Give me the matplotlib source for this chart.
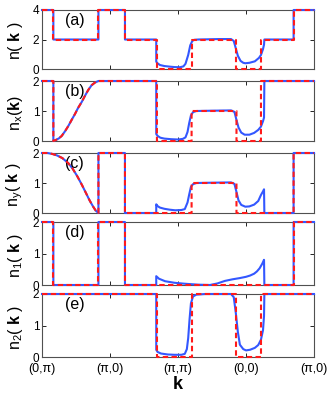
import matplotlib
matplotlib.use("Agg")
import matplotlib.pyplot as plt

plt.rcParams['font.family'] = ['Liberation Sans', 'DejaVu Sans']
plt.rcParams['mathtext.fontset'] = 'custom'
plt.rcParams['mathtext.rm'] = 'Liberation Sans'
plt.rcParams['mathtext.it'] = 'Liberation Sans:italic'
plt.rcParams['mathtext.bf'] = 'Liberation Sans:bold'

# ---- data (x measured along the path, one unit per segment) ----
xtick_pos = [0, 1, 2, 3, 4]
xtick_labels = ['(0,π)', '(π,0)', '(π,π)', '(0,0)', '(π,0)']

panel_tags = ['(a)', '(b)', '(c)', '(d)', '(e)']
ylabels = [r'$\mathrm{n}(\ \mathbf{k}\ )$', r'$\mathrm{n}_{\mathrm{x}}(\mathbf{k})$',
           r'$\mathrm{n}_{\mathrm{y}}(\ \mathbf{k}\ )$', r'$\mathrm{n}_{1}(\ \mathbf{k}\ )$',
           r'$\mathrm{n}_{2}(\ \mathbf{k}\ )$']
ymax = [4, 2, 2, 2, 2]
yticks = [[0, 2, 4], [0, 1, 2], [0, 1, 2], [0, 1, 2], [0, 1, 2]]

# smooth parts shared by blue and red in the first segment
nx_seg_x = [0.167, 0.20, 0.25, 0.29, 0.34, 0.387, 0.44, 0.485, 0.53, 0.584, 0.63, 0.68, 0.73, 0.78, 0.83]
nx_seg_y = [0.0, 0.03, 0.09, 0.17, 0.33, 0.50, 0.72, 0.90, 1.10, 1.30, 1.50, 1.70, 1.86, 1.95, 2.0]
ny_seg_x = [0.0, 0.08, 0.15, 0.22, 0.30, 0.387, 0.45, 0.52, 0.584, 0.65, 0.70, 0.75, 0.79, 0.83]
ny_seg_y = [2.0, 2.0, 1.97, 1.92, 1.83, 1.66, 1.48, 1.22, 0.95, 0.65, 0.42, 0.22, 0.08, 0.0]

# blue (solid) curves
a_blue_x = [0, 0.167, 0.167, 0.83, 0.83, 1.22, 1.22, 1.68, 1.68, 1.70, 1.735, 1.80, 1.88, 1.95, 2.03, 2.08,
            2.11, 2.15, 2.18, 2.21, 2.24, 2.30, 2.6, 2.78, 2.82, 2.85, 2.88, 2.92, 2.96, 2.99, 3.05, 3.13,
            3.19, 3.22, 3.25, 3.265, 3.27, 3.7, 3.7, 4]
a_blue_y = [4, 4, 2, 2, 4, 4, 2, 2, 0.5, 0.38, 0.27, 0.2, 0.16, 0.13, 0.12, 0.18,
            0.35, 0.95, 1.6, 1.9, 1.98, 2.0, 2.03, 2.03, 1.9, 1.4, 0.9, 0.55, 0.42, 0.39, 0.42, 0.52,
            0.75, 0.95, 1.35, 1.65, 2, 2, 4, 4]

b_blue_x = [0, 0.167, 0.167] + nx_seg_x[1:] + [1.68, 1.68, 1.70, 1.74, 1.80, 1.90, 2.0, 2.07, 2.11, 2.14,
            2.165, 2.19, 2.22, 2.27, 2.5, 2.78, 2.83, 2.86, 2.89, 2.93, 2.98, 3.05, 3.12, 3.18, 3.22,
            3.25, 3.265, 3.27, 4]
b_blue_y = [2, 2, 0] + nx_seg_y[1:] + [2, 0.23, 0.17, 0.11, 0.08, 0.06, 0.05, 0.07, 0.12, 0.3,
            0.6, 0.85, 0.96, 1.0, 1.01, 1.02, 0.97, 0.7, 0.45, 0.28, 0.21, 0.21, 0.27, 0.37, 0.48,
            0.66, 0.78, 2, 2]

c_blue_x = ny_seg_x + [0.83, 1.22, 1.22, 1.68, 1.68, 1.70, 1.735, 1.80, 1.88, 1.96, 2.05, 2.10, 2.14,
           2.165, 2.19, 2.22, 2.27, 2.5, 2.78, 2.83, 2.86, 2.89, 2.93, 2.99, 3.05, 3.12, 3.18, 3.22,
           3.25, 3.265, 3.27, 3.7, 3.7, 4]
c_blue_y = ny_seg_y + [2, 2, 0, 0, 0.29, 0.23, 0.18, 0.14, 0.11, 0.09, 0.1, 0.13, 0.35,
           0.62, 0.87, 0.96, 1.0, 1.01, 1.02, 0.97, 0.7, 0.42, 0.27, 0.21, 0.22, 0.28, 0.4, 0.6,
           0.72, 0.79, 0, 0, 2, 2]

d_blue_x = [0, 0.167, 0.167, 0.83, 0.83, 1.22, 1.22, 1.68, 1.68, 1.72, 1.81, 1.95, 2.1, 2.3, 2.47,
            2.58, 2.69, 2.8, 2.91, 3.0, 3.06, 3.12, 3.16, 3.2, 3.24, 3.265, 3.27, 3.7, 3.7, 4]
d_blue_y = [2, 2, 0, 0, 2, 2, 0, 0, 0.28, 0.2, 0.12, 0.07, 0.04, 0.01, 0.0,
            0.05, 0.13, 0.18, 0.22, 0.26, 0.3, 0.36, 0.43, 0.53, 0.68, 0.8, 0, 0, 2, 2]

e_blue_x = [0, 1.68, 1.68, 1.70, 1.75, 1.85, 1.95, 2.05, 2.10, 2.13, 2.15, 2.17, 2.19, 2.22, 2.27,
            2.4, 2.78, 2.82, 2.85, 2.88, 2.91, 2.96, 3.0, 3.06, 3.13, 3.18, 3.22, 3.25, 3.265, 3.27, 4]
e_blue_y = [2, 2, 0.23, 0.16, 0.11, 0.08, 0.07, 0.07, 0.1, 0.25, 0.6, 1.2, 1.7, 1.92, 1.98,
            2.0, 2.0, 1.9, 1.4, 0.8, 0.39, 0.25, 0.21, 0.23, 0.29, 0.38, 0.55, 0.85, 1.3, 2, 2]

# red (dashed) curves
a_red_x = [0, 0.167, 0.167, 0.83, 0.83, 1.22, 1.22, 1.69, 1.69, 2.2, 2.2, 2.86, 2.86, 3.22, 3.22, 3.7, 3.7, 4]
a_red_y = [4, 4, 2, 2, 4, 4, 2, 2, 0, 0, 2, 2, 0, 0, 2, 2, 4, 4]

b_red_x = [0, 0.167, 0.167] + nx_seg_x[1:] + [1.69, 1.69, 2.2, 2.2, 2.86, 2.86, 3.22, 3.22, 4]
b_red_y = [2, 2, 0] + nx_seg_y[1:] + [2, 0, 0, 1, 1, 0, 0, 2, 2]

c_red_x = ny_seg_x + [0.83, 1.22, 1.22, 2.2, 2.2, 2.86, 2.86, 3.7, 3.7, 4]
c_red_y = ny_seg_y + [2, 2, 0, 0, 1, 1, 0, 0, 2, 2]

d_red_x = [0, 0.167, 0.167, 0.83, 0.83, 1.22, 1.22, 3.7, 3.7, 4]
d_red_y = [2, 2, 0, 0, 2, 2, 0, 0, 2, 2]

e_red_x = [0, 1.69, 1.69, 2.2, 2.2, 2.86, 2.86, 3.22, 3.22, 4]
e_red_y = [2, 2, 0, 0, 2, 2, 0, 0, 2, 2]

blue = [(a_blue_x, a_blue_y), (b_blue_x, b_blue_y), (c_blue_x, c_blue_y), (d_blue_x, d_blue_y), (e_blue_x, e_blue_y)]
red = [(a_red_x, a_red_y), (b_red_x, b_red_y), (c_red_x, c_red_y), (d_red_x, d_red_y), (e_red_x, e_red_y)]

# ---- layout (figure fractions) ----
W, H = 332, 397
left, right = 42 / W, 314 / W
panel_px = [(10, 69), (81, 141), (153, 213), (222, 285), (294, 357)]

fig = plt.figure(figsize=(W / 100, H / 100), dpi=100)
blue_c = '#3357ff'
red_c = '#ff1a1a'
spine_c = '#505050'

for i in range(5):
    top, bot = panel_px[i]
    ax = fig.add_axes([left, 1 - bot / H, right - left, (bot - top) / H])
    bx, by = blue[i]
    rx, ry = red[i]
    ax.plot(bx, by, color=blue_c, lw=1.5, solid_joinstyle='round', zorder=3, clip_on=False)
    ax.plot(rx, ry, color=red_c, lw=1.5, dashes=(2.6, 1.6), zorder=4, clip_on=False)
    ax.set_xlim(0, 4)
    ax.set_ylim(0, ymax[i])
    ax.set_yticks(yticks[i])
    ax.set_xticks(xtick_pos)
    if i == 4:
        ax.set_xticklabels(xtick_labels, fontsize=9)
        ax.set_xlabel(r'$\mathbf{k}$', fontsize=13, labelpad=1)
    else:
        ax.set_xticklabels([])
    ax.tick_params(direction='in', top=True, right=True, length=3, width=0.6,
                   labelsize=8.5, pad=2, colors='black')
    ax.tick_params(axis='x', labelsize=9, pad=4)
    for s in ax.spines.values():
        s.set_color(spine_c)
        s.set_linewidth(0.8)
    ax.set_ylabel(ylabels[i], fontsize=11.5)
    ax.yaxis.set_label_coords(-0.062, 0.47)
    ax.text(0.12, 0.83, panel_tags[i], transform=ax.transAxes, fontsize=11.5,
            ha='center', va='center')

fig.savefig('out.png', dpi=100)
